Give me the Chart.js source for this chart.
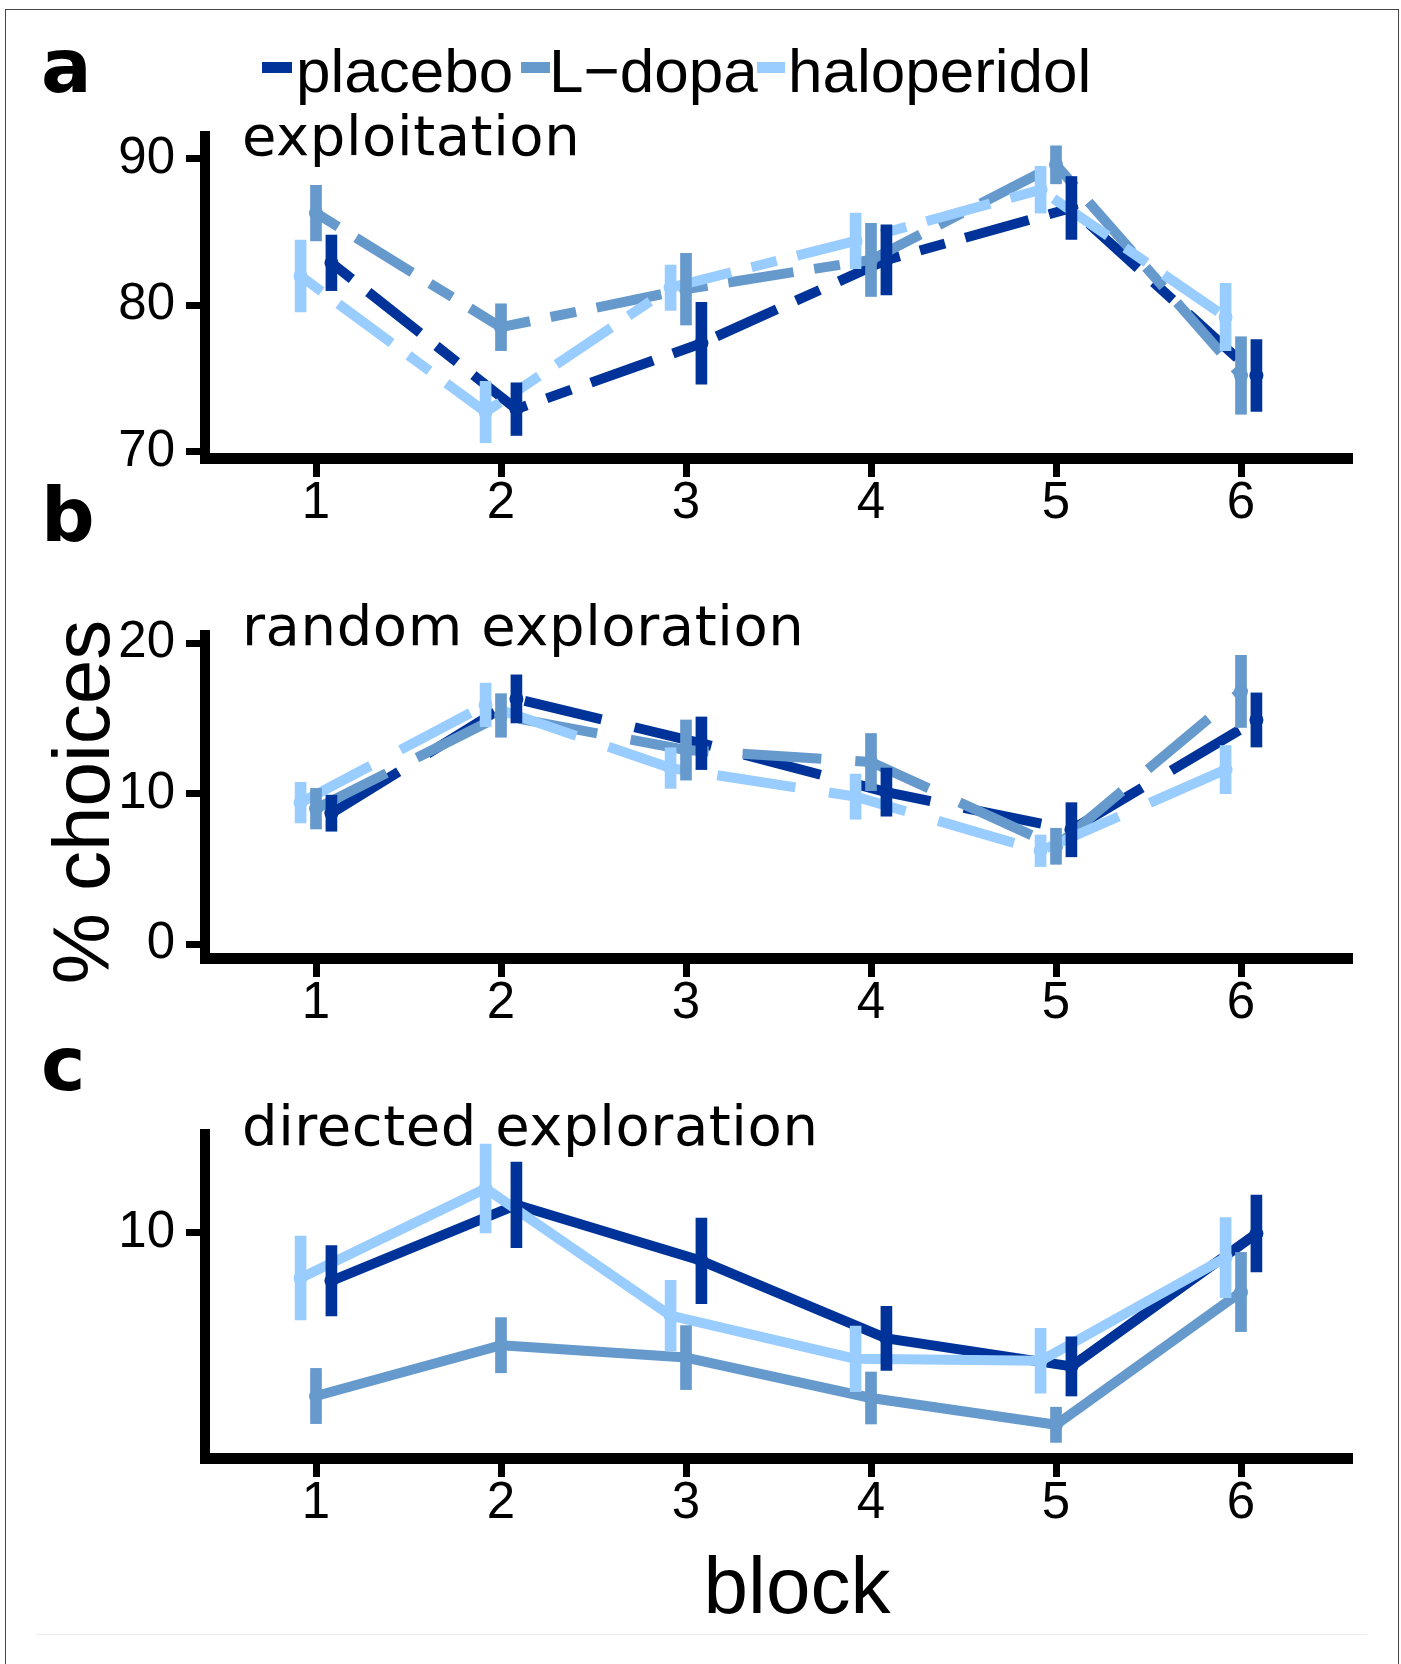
<!DOCTYPE html>
<html>
<head>
<meta charset="utf-8">
<script src="https://cdn.jsdelivr.net/npm/chart.js@4.4.1/dist/chart.umd.min.js"></script>
<style>
  html, body { margin: 0; padding: 0; background: #fff; }
  body { width: 1401px; height: 1664px; position: relative; overflow: hidden; }
  canvas { position: absolute; left: 0; top: 0; }
  #frame { position: absolute; left: 5px; top: 9px; width: 1394px; height: 1700px; border: 1px solid #444; border-bottom: none; box-sizing: border-box; }
  #foot { position: absolute; left: 36px; top: 1634px; width: 1331px; height: 0; border-top: 1px solid #ececec; }
</style>
</head>
<body>
<div id="frame"></div>
<div id="foot"></div>
<canvas id="panelA" width="1401" height="1664"></canvas>
<canvas id="panelB" width="1401" height="1664"></canvas>
<canvas id="panelC" width="1401" height="1664"></canvas>
<script>
// categories
const blocks = [1, 2, 3, 4, 5, 6];
const groups = ['placebo', 'L\u2212dopa', 'haloperidol'];
const groupColors = ['#003399', '#6699cc', '#99ccff'];
const dodge = [0.25 / 3, 0, -0.25 / 3]; // position_dodge offsets

// a: exploitation (% choices, mean and s.e.m.)
const placeboExploit = [82.9, 72.9, 77.4, 83.1, 86.65, 75.2];
const placeboExploitSe = [1.9, 1.8, 2.8, 2.4, 2.15, 2.45];
const ldopaExploit = [86.3, 78.5, 81.1, 83.1, 89.6, 75.2];
const ldopaExploitSe = [1.9, 1.6, 2.45, 2.5, 1.3, 2.65];
const haloExploit = [82.0, 72.7, 81.2, 84.4, 87.9, 79.2];
const haloExploitSe = [2.45, 2.1, 1.55, 1.9, 1.6, 2.3];
const exploitTicks = [70, 80, 90];

// b: random exploration
const placeboRandom = [8.7, 16.3, 13.35, 10.1, 7.6, 14.9];
const placeboRandomSe = [1.2, 1.6, 1.75, 1.6, 1.8, 1.8];
const ldopaRandom = [9.0, 15.2, 12.9, 12.1, 6.5, 16.8];
const ldopaRandomSe = [1.35, 1.45, 2.0, 1.9, 1.2, 2.4];
const haloRandom = [9.4, 15.9, 11.7, 9.8, 6.2, 11.6];
const haloRandomSe = [1.35, 1.45, 1.35, 1.5, 1.05, 1.6];
const randomTicks = [0, 10, 20];

// c: directed exploration
const placeboDirected = [8.8, 10.7, 9.3, 7.36, 6.66, 9.98];
const placeboDirectedSe = [0.88, 1.07, 1.07, 0.8, 0.74, 0.96];
const ldopaDirected = [5.92, 7.19, 6.88, 5.87, 5.2, 8.52];
const ldopaDirectedSe = [0.69, 0.69, 0.8, 0.65, 0.44, 0.99];
const haloDirected = [8.87, 11.11, 7.93, 6.85, 6.8, 9.38];
const haloDirectedSe = [1.05, 1.11, 0.88, 0.82, 0.81, 1.0];
const directedTicks = [10];

const PAGE_W = 1401, PAGE_H = 1664;
const plotLeft = 205, plotRight = 1352;
const sansFamily = '"Liberation Sans", Arial, Helvetica, sans-serif';
const tickFont = { family: sansFamily, size: 51, lineHeight: 1 };

function textPlugin(items, keys) {
  return {
    id: 'panelText',
    afterDraw(chart) {
      const ctx = chart.ctx;
      ctx.save();
      (keys || []).forEach(k => {
        ctx.fillStyle = k.color;
        ctx.fillRect(k.x, k.y, k.w, k.h);
      });
      ctx.fillStyle = '#000';
      ctx.textBaseline = 'alphabetic';
      items.forEach(t => {
        ctx.save();
        ctx.font = t.font;
        ctx.letterSpacing = t.spacing || '0px';
        ctx.textAlign = t.align || 'left';
        ctx.translate(t.x, t.y);
        if (t.rotate) ctx.rotate(t.rotate);
        ctx.fillText(t.text, 0, 0);
        ctx.restore();
      });
      ctx.restore();
    }
  };
}

function buildPanel(id, p) {
  const datasets = [];
  p.means.forEach((m, g) => {
    datasets.push({
      type: 'line',
      label: groups[g],
      data: blocks.map((b, i) => ({ x: b + dodge[g], y: m[i] })),
      borderColor: groupColors[g],
      backgroundColor: groupColors[g],
      borderWidth: 10,
      borderDash: p.dash,
      borderCapStyle: 'butt',
      borderJoinStyle: 'round',
      tension: 0,
      pointRadius: 7,
      pointBorderWidth: 0,
      pointBackgroundColor: groupColors[g],
      order: 6 - g
    });
    // error bars as floating bars
    datasets.push({
      type: 'bar',
      label: groups[g] + ' se',
      data: blocks.map((b, i) => ({ x: b + dodge[g], y: [m[i] - p.se[g][i], m[i] + p.se[g][i]] })),
      backgroundColor: groupColors[g],
      borderWidth: 0,
      barThickness: 11,
      grouped: false,
      order: 3 - g
    });
  });

  const axisGrid = { display: true, offset: false, drawOnChartArea: false, drawTicks: true, tickLength: 19, tickWidth: 7, tickColor: '#000' };

  return new Chart(document.getElementById(id), {
    type: 'line',
    data: { datasets },
    options: {
      responsive: false,
      animation: false,
      events: [],
      layout: { padding: { left: 0, right: PAGE_W - plotRight, top: p.plotTop, bottom: 0 } },
      plugins: { legend: { display: false }, tooltip: { enabled: false } },
      scales: {
        x: {
          type: 'linear', min: 0.4, max: 6.6, offset: false,
          afterBuildTicks: s => { s.ticks = blocks.map(v => ({ value: v })); },
          afterFit: s => { s.height = PAGE_H - p.plotBottom; },
          border: { display: true, width: 11, color: '#000' },
          grid: axisGrid,
          ticks: { color: '#000', font: tickFont, padding: 1, autoSkip: false, maxRotation: 0, minRotation: 0 }
        },
        y: {
          type: 'linear', min: p.yMin, max: p.yMax, offset: false,
          afterBuildTicks: s => { s.ticks = p.yTicks.map(v => ({ value: v })); },
          afterFit: s => { s.width = plotLeft; },
          border: { display: true, width: 10, color: '#000' },
          grid: axisGrid,
          ticks: { color: '#000', font: tickFont, padding: 11, autoSkip: false }
        }
      }
    },
    plugins: [textPlugin(p.texts, p.keys)]
  });
}

const tagFont = 'bold 75px "DejaVu Sans"';
const titleFont = '56px "DejaVu Sans"';
const titleSpacing = '0.6px';
const legendFont = '62px ' + sansFamily;
const axisTitleFont = '80px ' + sansFamily;

buildPanel('panelA', {
  means: [placeboExploit, ldopaExploit, haloExploit],
  se: [placeboExploitSe, ldopaExploitSe, haloExploitSe],
  yMin: 69.56, yMax: 91.57, yTicks: exploitTicks,
  plotTop: 136, plotBottom: 458,
  dash: [26, 21, 66, 21],
  keys: [
    { x: 262, y: 62, w: 30, h: 11, color: groupColors[0] },
    { x: 521, y: 62, w: 29, h: 11, color: groupColors[1] },
    { x: 757, y: 62, w: 28, h: 11, color: groupColors[2] }
  ],
  texts: [
    { text: 'a', font: tagFont, x: 41, y: 92 },
    { text: groups[0], font: legendFont, x: 296, y: 92 },
    { text: groups[1], font: legendFont, x: 549, y: 92 },
    { text: groups[2], font: legendFont, x: 788, y: 92 },
    { text: 'exploitation', font: titleFont, spacing: titleSpacing, x: 242, y: 155 }
  ]
});

buildPanel('panelB', {
  means: [placeboRandom, ldopaRandom, haloRandom],
  se: [placeboRandomSe, ldopaRandomSe, haloRandomSe],
  yMin: -0.93, yMax: 20.55, yTicks: randomTicks,
  plotTop: 635, plotBottom: 958,
  dash: [79, 34],
  texts: [
    { text: 'b', font: tagFont, x: 41, y: 541 },
    { text: 'random exploration', font: titleFont, spacing: titleSpacing, x: 242, y: 645 },
    { text: '% choices', font: axisTitleFont, x: 109, y: 802, align: 'center', rotate: -Math.PI / 2 }
  ]
});

buildPanel('panelC', {
  means: [placeboDirected, ldopaDirected, haloDirected],
  se: [placeboDirectedSe, ldopaDirectedSe, haloDirectedSe],
  yMin: 4.37, yMax: 12.47, yTicks: directedTicks,
  plotTop: 1134, plotBottom: 1458,
  dash: [],
  texts: [
    { text: 'c', font: tagFont, x: 41, y: 1090 },
    { text: 'directed exploration', font: titleFont, spacing: titleSpacing, x: 242, y: 1145 },
    { text: 'block', font: axisTitleFont, x: 797, y: 1613, align: 'center' }
  ]
});
</script>
</body>
</html>
